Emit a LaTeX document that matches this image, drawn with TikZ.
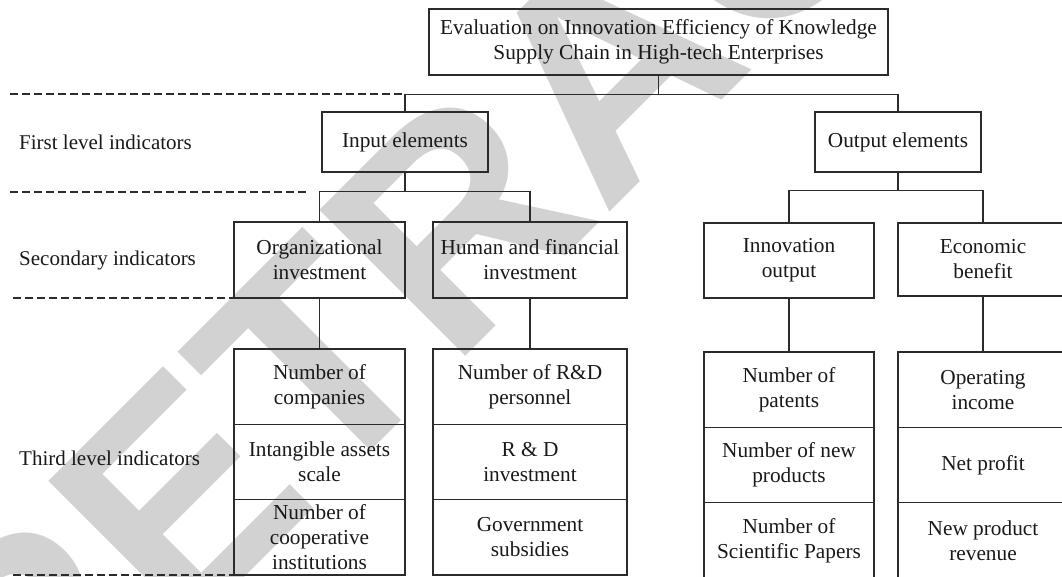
\documentclass[tikz,border=0pt]{standalone}
\usepackage{fontspec}
\setmainfont{Liberation Serif}
\setsansfont{Liberation Sans}
\usepackage{xcolor}

\definecolor{lineink}{HTML}{2B2B2B}
\definecolor{wmgray}{HTML}{D2D2D2}

\tikzset{
  box/.style={draw=lineink,line width=1.2pt,inner sep=0pt,align=center,
    text=black!90,font=\fontsize{21.3}{25}\selectfont},
  levellabel/.style={anchor=west,inner sep=0pt,text=black!90,
    font=\fontsize{21}{25}\selectfont},
  sep/.style={draw=lineink,line width=1.1pt,dash pattern=on 8pt off 4pt},
  link/.style={draw=lineink,line width=1.2pt}
}

\begin{document}
\begin{tikzpicture}[x=1pt,y=-1pt]
  \useasboundingbox (0,0) rectangle (1062,577);

  % watermark
  \node[rotate=45,text=wmgray,inner sep=0pt,text height=215pt,text depth=0pt,
    font=\sffamily\bfseries\fontsize{300}{300}\selectfont] (wm) at (605,65) {RETRACTED};

  % levels
  \node[levellabel] (l1) at (19,142) {First level indicators};
  \node[levellabel] (l2) at (19,260) {Secondary indicators};
  \node[levellabel] (l3) at (19,458) {Third level indicators};

  \coordinate (d1a) at (10,94);   \coordinate (d1b) at (405,94);
  \coordinate (d2a) at (10,192);  \coordinate (d2b) at (306,192);
  \coordinate (d3a) at (13,298);  \coordinate (d3b) at (234,298);
  \coordinate (d4a) at (13,575);  \coordinate (d4b) at (234,575);
  \foreach \from/\to in {d1a/d1b,d2a/d2b,d3a/d3b,d4a/d4b}
    \draw[sep] (\from) -- (\to);

  % tree
  \node[box,minimum width=459pt,minimum height=66pt] (top) at (658.5,42)
    {Evaluation on Innovation Efficiency of Knowledge\\Supply Chain in High-tech Enterprises};

  \node[box,minimum width=166pt,minimum height=60pt] (in) at (405,142) {Input elements};
  \node[box,minimum width=166pt,minimum height=60pt] (out) at (898,142) {Output elements};

  \node[box,minimum width=171pt,minimum height=76pt] (org) at (319.5,260) {Organizational\\investment};
  \node[box,minimum width=194pt,minimum height=76pt] (hum) at (530,260) {Human and financial\\investment};
  \node[box,minimum width=170pt,minimum height=75pt] (inno) at (789,260.5) {Innovation\\output};
  \node[box,minimum width=170pt,minimum height=73pt] (eco) at (983,259.5) {Economic\\benefit};

  \node[box,minimum width=171pt,minimum height=75.3pt] (org1) at (319.5,386.7) {Number of\\companies};
  \node[box,minimum width=171pt,minimum height=75.3pt] (org2) at (319.5,462) {Intangible assets\\scale};
  \node[box,minimum width=171pt,minimum height=75.3pt] (org3) at (319.5,537.3) {Number of\\cooperative\\institutions};

  \node[box,minimum width=194pt,minimum height=75.3pt] (hum1) at (530,386.7) {Number of R\&D\\personnel};
  \node[box,minimum width=194pt,minimum height=75.3pt] (hum2) at (530,462) {R \& D\\investment};
  \node[box,minimum width=194pt,minimum height=75.3pt] (hum3) at (530,537.3) {Government\\subsidies};

  \node[box,minimum width=170pt,minimum height=75.3pt] (inno1) at (789,389.7) {Number of\\patents};
  \node[box,minimum width=170pt,minimum height=75.3pt] (inno2) at (789,465) {Number of new\\products};
  \node[box,minimum width=170pt,minimum height=75.3pt] (inno3) at (789,540.3) {Number of\\Scientific Papers};

  \node[box,minimum width=170pt,minimum height=75.3pt] (eco1) at (983,389.7) {Operating\\income};
  \node[box,minimum width=170pt,minimum height=75.3pt] (eco2) at (983,465) {Net profit};
  \node[box,minimum width=170pt,minimum height=75.3pt] (eco3) at (983,540.3) {New product\\revenue};

  \foreach \from/\to in {top/in,top/out,in/org,in/hum}
    \draw[link] (\from.south) -- ++(0,19) -| (\to.north);
  \foreach \from/\to in {out/inno,out/eco}
    \draw[link] (\from.south) -- ++(0,18) -| (\to.north);
  \foreach \from/\to in {org/org1,hum/hum1,inno/inno1,eco/eco1}
    \draw[link] (\from.south) -- (\to.north);

\end{tikzpicture}
\end{document}
